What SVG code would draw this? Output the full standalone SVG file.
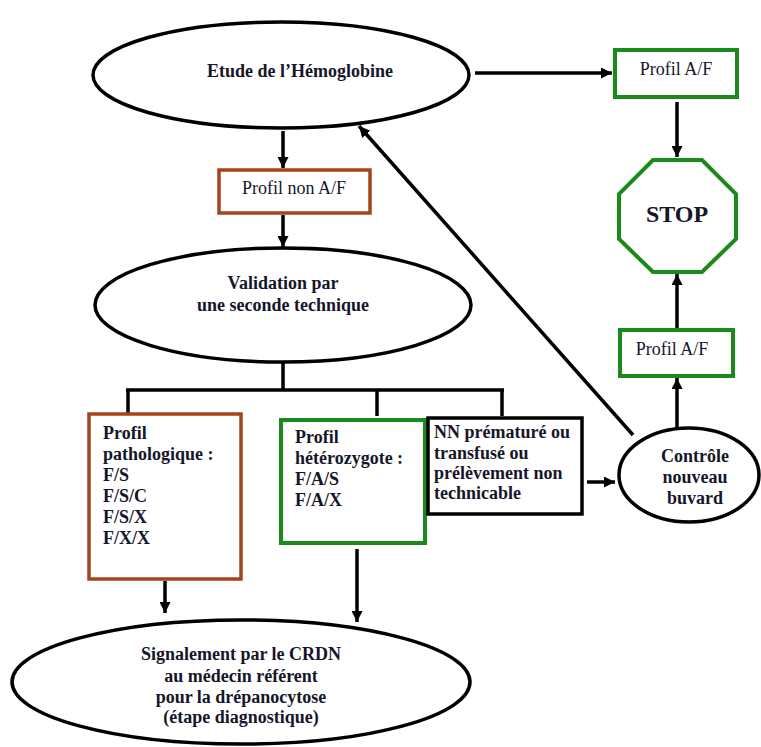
<svg xmlns="http://www.w3.org/2000/svg" width="761" height="747" viewBox="0 0 761 747">
<defs>
<marker id="ah" viewBox="0 0 10 10" refX="10" refY="5" markerWidth="11" markerHeight="11" markerUnits="userSpaceOnUse" orient="auto">
<path d="M0,0 L10,5 L0,10 Z" fill="#000"/>
</marker>
</defs>
<style>
.t{font-family:"Liberation Serif","Times New Roman",serif;font-size:18px;fill:#16162a}
.b{font-weight:bold}
.ms{text-anchor:middle}
.ell{fill:#fff;stroke:#000;stroke-width:3.5}
.brown{fill:#fff;stroke:#a2441c;stroke-width:3.5}
.green{fill:#fff;stroke:#1a8a1a;stroke-width:4}
.black{fill:#fff;stroke:#000;stroke-width:3.5}
.c{fill:none;stroke:#000;stroke-width:3.5}
.a{fill:none;stroke:#000;stroke-width:3.5;marker-end:url(#ah)}
</style>
<rect width="761" height="747" fill="#fff"/>
<g id="connectors">
<path class="a" d="M475,73 L612,73"/>
<path class="a" d="M677,102 L677,157"/>
<path class="a" d="M677,328 L677,274"/>
<path class="a" d="M677,428 L677,378"/>
<path class="a" d="M587,482 L615,482"/>
<path class="a" d="M633,435 L359,126"/>
<path class="a" d="M283,131 L283,168"/>
<path class="a" d="M283,215 L283,247"/>
<path class="c" d="M283,362 L283,390 M126,390 L504,390 M128,390 L128,413 M377,390 L377,416 M502,390 L502,416"/>
<path class="a" d="M165,581 L165,613"/>
<path class="a" d="M357,549 L357,622"/>
</g>
<g id="etude">
<ellipse class="ell" cx="281" cy="75" rx="188" ry="53"/>
<text class="t b ms" x="300" y="77">Etude de l’Hémoglobine</text>
</g>
<g id="profilAF1">
<rect class="green" x="615" y="50" width="122" height="47"/>
<text class="t ms" x="676" y="75">Profil A/F</text>
</g>
<g id="stop">
<polygon class="green" points="653,160 702,160 736,194 736,239 702,272 653,272 619,239 619,194"/>
<text class="t b ms" x="677" y="222" style="font-size:24px">STOP</text>
</g>
<g id="profilAF2">
<rect class="green" x="620" y="330" width="113" height="46"/>
<text class="t ms" x="672" y="355">Profil A/F</text>
</g>
<g id="controle">
<ellipse class="ell" cx="689" cy="475" rx="70" ry="47"/>
<text class="t b ms" x="695" y="462">Contrôle</text>
<text class="t b ms" x="695" y="483">nouveau</text>
<text class="t b ms" x="695" y="504">buvard</text>
</g>
<g id="profilNonAF">
<rect class="brown" x="219" y="170" width="151" height="43"/>
<text class="t ms" x="294" y="194">Profil non A/F</text>
</g>
<g id="validation">
<ellipse class="ell" cx="283" cy="305" rx="188" ry="57"/>
<text class="t b ms" x="283" y="289">Validation par</text>
<text class="t b ms" x="283" y="311">une seconde technique</text>
</g>
<g id="pathologique">
<rect class="brown" x="89" y="414" width="152" height="165"/>
<text class="t b" x="103" y="439">Profil</text>
<text class="t b" x="103" y="460">pathologique :</text>
<text class="t b" x="103" y="481">F/S</text>
<text class="t b" x="103" y="502">F/S/C</text>
<text class="t b" x="103" y="523">F/S/X</text>
<text class="t b" x="103" y="544">F/X/X</text>
</g>
<g id="heterozygote">
<rect class="green" x="281" y="420" width="144" height="123"/>
<text class="t b" x="295" y="443">Profil</text>
<text class="t b" x="295" y="464">hétérozygote :</text>
<text class="t b" x="295" y="485">F/A/S</text>
<text class="t b" x="295" y="506">F/A/X</text>
</g>
<g id="nn">
<rect class="black" x="428" y="418" width="154" height="96"/>
<text class="t b" x="434" y="438">NN prématuré ou</text>
<text class="t b" x="434" y="459">transfusé ou</text>
<text class="t b" x="434" y="479">prélèvement non</text>
<text class="t b" x="434" y="499">technicable</text>
</g>
<g id="signalement">
<ellipse class="ell" cx="241" cy="682" rx="229" ry="62"/>
<text class="t b ms" x="241" y="660">Signalement par le CRDN</text>
<text class="t b ms" x="241" y="682">au médecin référent</text>
<text class="t b ms" x="241" y="703">pour la drépanocytose</text>
<text class="t b ms" x="241" y="723">(étape diagnostique)</text>
</g>
</svg>
